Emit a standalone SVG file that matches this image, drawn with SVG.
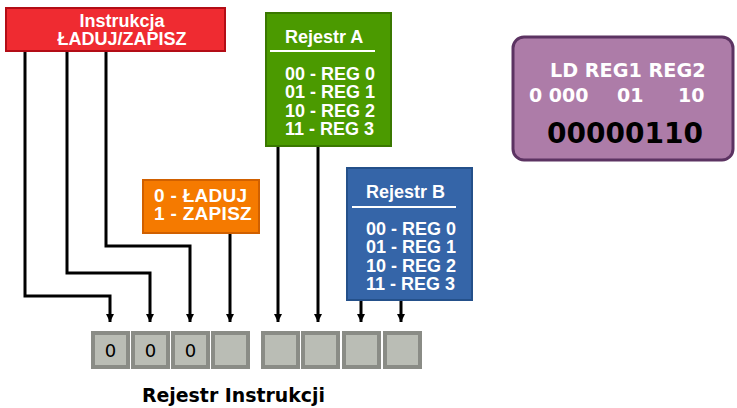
<svg xmlns="http://www.w3.org/2000/svg" width="737" height="408" viewBox="0 0 737 408">
<defs>
<marker id="ah" markerWidth="8" markerHeight="10" refX="8" refY="4" orient="auto" markerUnits="userSpaceOnUse">
<path d="M0,0 L8,4 L0,8 Z" fill="#000"/>
</marker>
<style>
.lbl{font-family:"Liberation Sans",Arial,sans-serif;font-weight:bold;fill:#fff;}
.dv{font-family:"DejaVu Sans",sans-serif;font-weight:bold;}
.conn{fill:none;stroke:#000;stroke-width:3;}
.cell{fill:#babdb5;stroke:#8a8c86;stroke-width:4;}
.ul{stroke:#fff;stroke-width:2;}
</style>
</defs>
<rect width="737" height="408" fill="#fff"/>
<g id="connectors">
<path class="conn" d="M25,51 V296 H110 V322" marker-end="url(#ah)"/>
<path class="conn" d="M67,51 V273 H150 V322" marker-end="url(#ah)"/>
<path class="conn" d="M106,51 V246 H190 V322" marker-end="url(#ah)"/>
<path class="conn" d="M230,233 V322" marker-end="url(#ah)"/>
<path class="conn" d="M278,146 V322" marker-end="url(#ah)"/>
<path class="conn" d="M318,146 V322" marker-end="url(#ah)"/>
<path class="conn" d="M361,300 V322" marker-end="url(#ah)"/>
<path class="conn" d="M401,300 V322" marker-end="url(#ah)"/>
</g>
<g id="instrukcja">
<rect x="6" y="8" width="219" height="43" fill="#ef2b31" stroke="#b30d16" stroke-width="2"/>
<text class="lbl" x="122" y="27" font-size="18" text-anchor="middle">Instrukcja</text>
<text class="lbl" x="122" y="45" font-size="18" text-anchor="middle">ŁADUJ/ZAPISZ</text>
</g>
<g id="rejestrA">
<rect x="266" y="13" width="125" height="133" fill="#4b9a00" stroke="#3a7800" stroke-width="2"/>
<text class="lbl" x="285" y="43" font-size="18">Rejestr A</text>
<line class="ul" x1="270" y1="51" x2="375" y2="51"/>
<text class="lbl" x="285" y="80" font-size="18">00 - REG 0</text>
<text class="lbl" x="285" y="98" font-size="18">01 - REG 1</text>
<text class="lbl" x="285" y="117" font-size="18">10 - REG 2</text>
<text class="lbl" x="285" y="135" font-size="18">11 - REG 3</text>
</g>
<g id="rejestrB">
<rect x="347" y="168" width="125" height="132" fill="#3565a8" stroke="#24508a" stroke-width="2"/>
<text class="lbl" x="366" y="198" font-size="18">Rejestr B</text>
<line class="ul" x1="352" y1="207" x2="456" y2="207"/>
<text class="lbl" x="366" y="235" font-size="18">00 - REG 0</text>
<text class="lbl" x="366" y="253" font-size="18">01 - REG 1</text>
<text class="lbl" x="366" y="272" font-size="18">10 - REG 2</text>
<text class="lbl" x="366" y="290" font-size="18">11 - REG 3</text>
</g>
<g id="tryb">
<rect x="143" y="180" width="116" height="53" fill="#f57a00" stroke="#d06000" stroke-width="2"/>
<text class="lbl" x="154" y="202" font-size="19" letter-spacing="0.3">0 - ŁADUJ</text>
<text class="lbl" x="154" y="220" font-size="19" letter-spacing="0.3">1 - ZAPISZ</text>
</g>
<g id="przyklad">
<rect x="513" y="37" width="220" height="123" rx="11" fill="#ad7ca8" stroke="#5c3362" stroke-width="3"/>
<text class="dv" x="550" y="77" font-size="19.2" fill="#fff">LD REG1 REG2</text>
<text class="dv" x="529" y="102" font-size="19" fill="#fff">0 000</text>
<text class="dv" x="617" y="102" font-size="19" fill="#fff">01</text>
<text class="dv" x="678" y="102" font-size="19" fill="#fff">10</text>
<text class="dv" x="547" y="143" font-size="28" fill="#000">00000110</text>
</g>
<g id="rejestr-instrukcji">
<rect class="cell" x="93" y="333" width="35" height="34"/>
<rect class="cell" x="133" y="333" width="35" height="34"/>
<rect class="cell" x="173" y="333" width="35" height="34"/>
<rect class="cell" x="213" y="333" width="35" height="34"/>
<rect class="cell" x="263" y="333" width="35" height="34"/>
<rect class="cell" x="303" y="333" width="35" height="34"/>
<rect class="cell" x="344" y="333" width="35" height="34"/>
<rect class="cell" x="385" y="333" width="35" height="34"/>
<text x="110.5" y="357" font-family="DejaVu Sans,sans-serif" font-size="18" text-anchor="middle">0</text>
<text x="150.5" y="357" font-family="DejaVu Sans,sans-serif" font-size="18" text-anchor="middle">0</text>
<text x="190.5" y="357" font-family="DejaVu Sans,sans-serif" font-size="18" text-anchor="middle">0</text>
<text class="dv" x="233.5" y="402" font-size="18.9" text-anchor="middle" fill="#000">Rejestr Instrukcji</text>
</g>
</svg>
